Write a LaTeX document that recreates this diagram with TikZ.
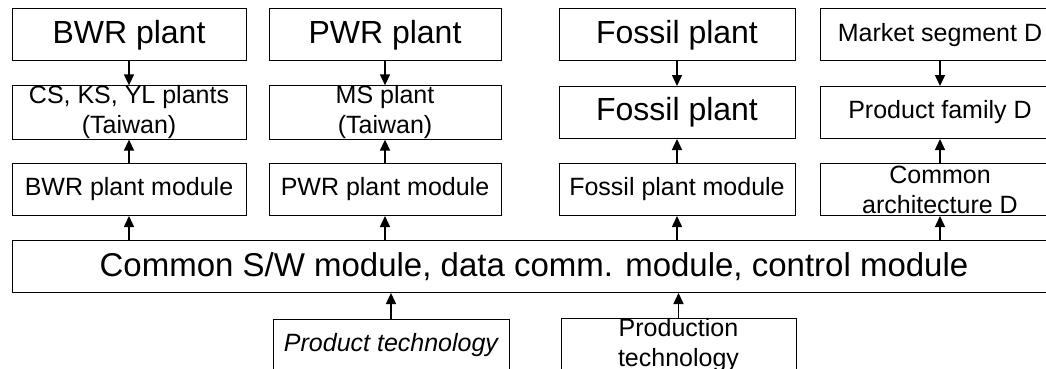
\documentclass[tikz,border=0pt]{standalone}
\usepackage{fontspec}
\setmainfont{Liberation Sans}
\usetikzlibrary{arrows.meta}

\begin{document}
\begin{tikzpicture}[x=1pt,y=-1pt,line width=1pt,
		blk/.style={draw,inner sep=0pt,minimum height=52pt,align=center},
		big/.style={font=\fontsize{32}{36}\selectfont},
		sml/.style={font=\fontsize{25}{30}\selectfont},
		link/.style={-{Triangle[length=11pt,width=10pt]},line width=1.5pt}
	]
	\useasboundingbox (0,0) rectangle (1046,369);
	% plants / market
	\node[blk,big,minimum width=234pt] (bwr) at (129,35) {BWR plant};
	\node[blk,big,minimum width=232pt] (pwr) at (385,35) {PWR plant};
	\node[blk,big,minimum width=236pt] (fos) at (677,35) {Fossil plant};
	\node[blk,sml,minimum width=240pt] (mkt) at (940,35) {Market segment D};
	% families
	\node[blk,sml,minimum width=234pt] (cks) at (129,112.5) {CS, KS, YL plants\\(Taiwan)};
	\node[blk,sml,minimum width=232pt] (ms) at (385,112.5) {MS plant\\(Taiwan)};
	\node[blk,big,minimum width=236pt] (fosf) at (677,112.5) {Fossil plant};
	\node[blk,sml,minimum width=240pt] (pfd) at (940,112.5) {Product family D};
	% modules
	\node[blk,sml,minimum width=234pt] (bwrm) at (129,189.5) {BWR plant module};
	\node[blk,sml,minimum width=232pt] (pwrm) at (385,189.5) {PWR plant module};
	\node[blk,sml,minimum width=236pt] (fosm) at (677,189.5) {Fossil plant module};
	\node[blk,sml,minimum width=240pt] (cad) at (940,189.5) {Common\\architecture D};
	% common layer
	\node[blk,font=\fontsize{33}{36}\selectfont,minimum width=1044pt] (com) at (534,266.5)
		{Common S/W module, data comm. module, control module};
	% technologies
	\node[blk,sml,minimum width=236pt] (prod) at (391,345) {\itshape Product technology};
	\node[blk,sml,minimum width=235pt] (pron) at (678.5,345) {Production\\technology};
	% arrows
	\draw[link] (bwr) -- (cks);
	\draw[link] (pwr) -- (ms);
	\draw[link] (fos) -- (fosf);
	\draw[link] (mkt) -- (pfd);
	\draw[link] (bwrm) -- (cks);
	\draw[link] (pwrm) -- (ms);
	\draw[link] (fosm) -- (fosf);
	\draw[link] (cad) -- (pfd);
	\draw[link] (com.north -| bwrm) -- (bwrm);
	\draw[link] (com.north -| pwrm) -- (pwrm);
	\draw[link] (com.north -| fosm) -- (fosm);
	\draw[link] (com.north -| cad) -- (cad);
	\draw[link] (prod) -- (prod |- com.south);
	\draw[link] (pron) -- (pron |- com.south);
\end{tikzpicture}
\end{document}
